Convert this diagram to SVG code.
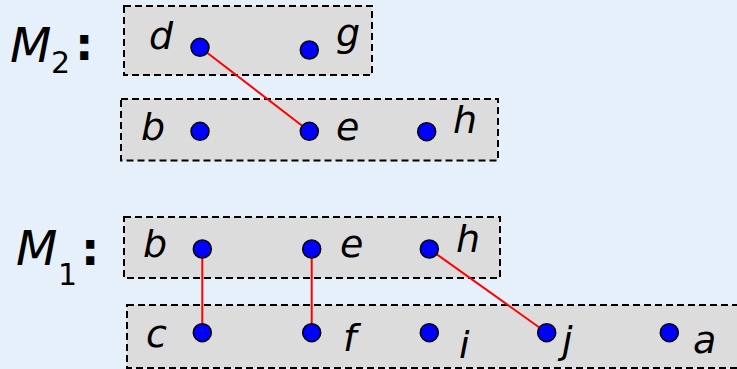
<svg xmlns="http://www.w3.org/2000/svg" width="737" height="369" viewBox="0 0 737 369">
<style>
.box{fill:#dcdcdc;stroke:#000;stroke-width:2;stroke-dasharray:7,4}
.dot{fill:#0000ff;stroke:#000;stroke-width:1.5}
.edge{stroke:#ff0000;stroke-width:2;fill:none}
.lbl{font-family:"DejaVu Sans",Verdana,sans-serif;font-style:italic;font-size:38px;fill:#000}
.title{font-family:"DejaVu Sans",Verdana,sans-serif;font-size:48px;fill:#000}
.colon{font-family:"DejaVu Sans",Verdana,sans-serif;font-size:46px;font-weight:bold;fill:#000}
</style>
<rect width="737" height="369" fill="#e6f0fa"/>
<g id="titles">
<text class="title" x="10" y="62"><tspan font-style="italic">M</tspan><tspan font-size="30" x="51" y="73">2</tspan></text>
<text class="colon" x="75" y="60">:</text>
<text class="title" x="16" y="265"><tspan font-style="italic">M</tspan><tspan font-size="30" x="58" y="285">1</tspan></text>
<text class="colon" x="81" y="265">:</text>
</g>
<g id="boxes">
<rect id="m2top" class="box" x="124" y="6" width="248" height="69"/>
<rect id="m2bot" class="box" x="121" y="99" width="377" height="61.5"/>
<rect id="m1top" class="box" x="124" y="217" width="376" height="61"/>
<rect id="m1bot" class="box" x="127" y="305" width="620" height="63"/>
</g>
<g id="connectors">
<line class="edge" x1="200" y1="47.3" x2="309.3" y2="131.3"/>
<line class="edge" x1="202.3" y1="249" x2="202.3" y2="332.7"/>
<line class="edge" x1="311.7" y1="249" x2="311.7" y2="332.7"/>
<line class="edge" x1="429.3" y1="249" x2="546.7" y2="332.7"/>
</g>
<g id="m2-d"><circle class="dot" cx="200" cy="47.3" r="9"/><text class="lbl" x="149" y="49">d</text></g>
<g id="m2-g"><circle class="dot" cx="309.3" cy="50" r="9"/><text class="lbl" x="336" y="46">g</text></g>
<g id="m2-b"><circle class="dot" cx="200" cy="131.3" r="9"/><text class="lbl" x="141" y="140">b</text></g>
<g id="m2-e"><circle class="dot" cx="309.3" cy="131.3" r="9"/><text class="lbl" x="336" y="140">e</text></g>
<g id="m2-h"><circle class="dot" cx="426.7" cy="131.7" r="9"/><text class="lbl" x="453" y="133">h</text></g>
<g id="m1-b"><circle class="dot" cx="202.3" cy="249" r="9"/><text class="lbl" x="143" y="257">b</text></g>
<g id="m1-e"><circle class="dot" cx="311.7" cy="249" r="9"/><text class="lbl" x="340" y="257">e</text></g>
<g id="m1-h"><circle class="dot" cx="429.3" cy="249" r="9"/><text class="lbl" x="456" y="252">h</text></g>
<g id="m1-c"><circle class="dot" cx="202.3" cy="332.7" r="9"/><text class="lbl" x="146" y="347">c</text></g>
<g id="m1-f"><circle class="dot" cx="311.7" cy="332.7" r="9"/><text class="lbl" x="343" y="351">f</text></g>
<g id="m1-i"><circle class="dot" cx="429.3" cy="332.7" r="9"/><text class="lbl" x="459" y="358">i</text></g>
<g id="m1-j"><circle class="dot" cx="546.7" cy="332.7" r="9"/><text class="lbl" x="562" y="353">j</text></g>
<g id="m1-a"><circle class="dot" cx="669.3" cy="332.7" r="9"/><text class="lbl" x="693" y="353">a</text></g>
</svg>
